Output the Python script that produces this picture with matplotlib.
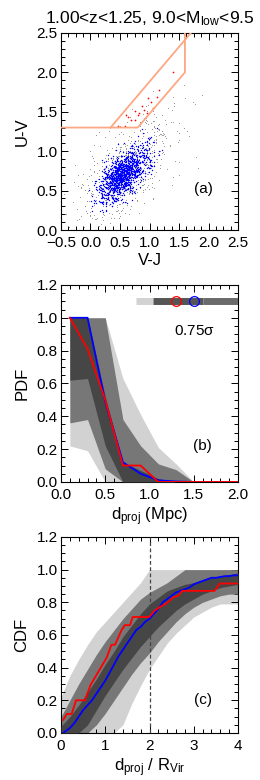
import numpy as np
import matplotlib
matplotlib.use("Agg")
import matplotlib.pyplot as plt
from matplotlib.ticker import MultipleLocator

plt.rcParams['font.family'] = ['Liberation Sans', 'DejaVu Sans']
plt.rcParams['mathtext.fontset'] = 'custom'
plt.rcParams['mathtext.rm'] = 'Liberation Sans'
plt.rcParams['mathtext.it'] = 'Liberation Sans'

# ---------------- data: panel (a) ----------------
title = "1.00<z<1.25, 9.0<M$_{\\rm low}$<9.5"
red_vj = [1.40, 1.16, 0.98, 1.12, 0.88, 1.06, 0.96, 0.83, 0.75, 0.80, 0.61, 0.68, 0.75, 0.58, 0.47, 0.64, 1.02, 0.90]
red_uv = [2.01, 1.78, 1.67, 1.69, 1.57, 1.55, 1.49, 1.48, 1.51, 1.46, 1.46, 1.39, 1.39, 1.32, 1.32, 1.44, 1.63, 1.52]
# cloud parameters (centre, std, correlation, count)
blue_center = [0.56, 0.71]
blue_std = [0.21, 0.17]
blue_corr = 0.6
blue_n = 1100
grey_center = [0.62, 0.78]
grey_std = [0.42, 0.36]
grey_corr = 0.65
grey_n = 650
wedge_x = [-0.5, 0.80, 1.60, 1.60]
wedge_y = [1.30, 1.30, 2.00, 2.50]
wedge2_x = [0.34, 1.70]
wedge2_y = [1.30, 2.50]

# ---------------- data: panel (b) ----------------
pdf_x = [0.1, 0.3, 0.5, 0.7, 0.9, 1.1, 1.3, 1.5, 1.7, 1.9, 2.1]
pdf_blue = [1.0, 1.0, 0.49, 0.12, 0.05, 0.01, 0.003, 0.0, 0.0, 0.0, 0.0]
pdf_red = [1.0, 0.81, 0.50, 0.10, 0.10, 0.0, 0.0, 0.0, 0.0, 0.0, 0.0]
pdf_L_hi = [1.0, 1.0, 1.0, 0.63, 0.41, 0.21, 0.11, 0.0, 0.0, 0.0, 0.0]
pdf_L_lo = [0.22, 0.19, 0.0, 0.0, 0.0, 0.0, 0.0, 0.0, 0.0, 0.0, 0.0]
pdf_M_hi = [1.0, 1.0, 1.0, 0.38, 0.22, 0.11, 0.075, 0.0, 0.0, 0.0, 0.0]
pdf_M_lo = [0.36, 0.38, 0.08, 0.0, 0.0, 0.0, 0.0, 0.0, 0.0, 0.0, 0.0]
pdf_D_hi = [1.0, 1.0, 0.52, 0.12, 0.07, 0.02, 0.0, 0.0, 0.0, 0.0, 0.0]
pdf_D_lo = [0.62, 0.63, 0.22, 0.0, 0.0, 0.0, 0.0, 0.0, 0.0, 0.0, 0.0]
sig_light = [0.85, 1.04]
sig_dark = [1.04, 1.60]
sig_mid = [1.60, 2.00]
sig_red = 1.30
sig_blue = 1.50
sig_label = "0.75$\\sigma$"

# ---------------- data: panel (c) ----------------
cdf_x = [0.0, 0.2, 0.4, 0.6, 0.8, 1.0, 1.2, 1.4, 1.6, 1.8, 2.0, 2.2, 2.4, 2.6, 2.8, 3.0, 3.2, 3.4, 3.6, 3.8, 4.0]
cdf_L_hi = [0.22, 0.35, 0.45, 0.54, 0.62, 0.68, 0.74, 0.80, 0.86, 0.92, 1.0, 1.0, 1.0, 1.0, 1.0, 1.0, 1.0, 1.0, 1.0, 1.0, 1.0]
cdf_L_lo = [0.0, 0.0, 0.0, 0.0, 0.0, 0.0, 0.0, 0.05, 0.18, 0.29, 0.39, 0.47, 0.55, 0.61, 0.66, 0.71, 0.74, 0.77, 0.79, 0.79, 0.79]
cdf_M_hi = [0.10, 0.20, 0.30, 0.39, 0.48, 0.56, 0.63, 0.70, 0.76, 0.82, 0.86, 0.89, 0.92, 0.96, 1.0, 1.0, 1.0, 1.0, 1.0, 1.0, 1.0]
cdf_M_lo = [0.0, 0.0, 0.0, 0.0, 0.05, 0.12, 0.20, 0.28, 0.36, 0.43, 0.49, 0.56, 0.62, 0.68, 0.73, 0.77, 0.80, 0.82, 0.84, 0.85, 0.85]
cdf_D_hi = [0.04, 0.10, 0.17, 0.25, 0.33, 0.42, 0.50, 0.59, 0.66, 0.73, 0.79, 0.83, 0.87, 0.89, 0.91, 0.92, 0.94, 0.95, 0.96, 0.97, 0.98]
cdf_D_lo = [0.0, 0.0, 0.0, 0.05, 0.14, 0.23, 0.31, 0.39, 0.46, 0.53, 0.59, 0.65, 0.70, 0.75, 0.79, 0.82, 0.85, 0.87, 0.89, 0.90, 0.91]
cdf_blue_x = [0.05, 0.1, 0.2, 0.3, 0.4, 0.5, 0.6, 0.7, 0.8, 0.9, 1.0, 1.1, 1.2, 1.3, 1.4, 1.5, 1.6, 1.7, 1.8, 1.9, 2.0,
              2.1, 2.2, 2.3, 2.4, 2.5, 2.6, 2.7, 2.8, 2.9, 3.0, 3.1, 3.2, 3.3, 3.4, 3.5, 3.6, 3.7, 3.8, 3.9, 4.0]
cdf_blue = [0.0, 0.01, 0.03, 0.06, 0.10, 0.14, 0.17, 0.20, 0.24, 0.28, 0.32, 0.37, 0.42, 0.47, 0.51, 0.55, 0.59, 0.63,
            0.65, 0.68, 0.70, 0.73, 0.76, 0.80, 0.82, 0.84, 0.86, 0.87, 0.88, 0.89, 0.91, 0.92, 0.93, 0.94, 0.95, 0.95,
            0.955, 0.96, 0.96, 0.965, 0.965]
cdf_red_x = [0.05, 0.13, 0.24, 0.34, 0.54, 0.67, 1.03, 1.14, 1.22, 1.37, 1.44, 1.56, 1.62, 1.99, 2.12, 2.23, 2.36,
             2.46, 2.53, 2.65, 2.74, 3.47, 3.59, 4.0]
cdf_red = [0.08, 0.116, 0.116, 0.20, 0.20, 0.295, 0.46, 0.54, 0.54, 0.63, 0.66, 0.66, 0.71, 0.71, 0.75, 0.77, 0.79,
           0.81, 0.83, 0.84, 0.87, 0.87, 0.915, 0.915]
vline_x = 2.0

C_LIGHT = '#d2d2d2'
C_MID = '#777777'
C_DARK = '#464646'
C_WEDGE = '#fba883'
TICK_FS = 11
LAB_FS = 12

fig = plt.figure(figsize=(2.6, 7.8), dpi=100)
axa = fig.add_axes([0.2346, 0.7051, 0.6808, 0.2526])
axb = fig.add_axes([0.2346, 0.3821, 0.6808, 0.2526])
axc = fig.add_axes([0.2346, 0.0603, 0.6808, 0.2513])


def style(ax, xmaj, xmin, ymaj, ymin):
    ax.xaxis.set_major_locator(MultipleLocator(xmaj))
    ax.xaxis.set_minor_locator(MultipleLocator(xmin))
    ax.yaxis.set_major_locator(MultipleLocator(ymaj))
    ax.yaxis.set_minor_locator(MultipleLocator(ymin))
    ax.tick_params(which='both', direction='in', top=True, right=True, labelsize=TICK_FS, width=0.7)
    ax.tick_params(which='major', length=5)
    ax.tick_params(which='minor', length=2.8)
    ax.tick_params(axis='x', pad=4.5)
    ax.tick_params(axis='y', pad=2.5)
    for s in ax.spines.values():
        s.set_linewidth(0.8)


# ---- panel (a)
def cloud(center, std, corr, n, seed):
    rng = np.random.default_rng(seed)
    cov = [[std[0] ** 2, corr * std[0] * std[1]], [corr * std[0] * std[1], std[1] ** 2]]
    return rng.multivariate_normal(center, cov, n).T

gx, gy = cloud(grey_center, grey_std, grey_corr, grey_n, 11)
bx, by = cloud(blue_center, blue_std, blue_corr, blue_n, 5)
axa.scatter(gx, gy, s=0.35, c='#808080', linewidths=0, zorder=1)
axa.scatter(bx, by, s=1.0, c='#0000ff', linewidths=0, zorder=2)
axa.scatter(red_vj, red_uv, s=1.5, c='#ff0000', linewidths=0, zorder=3)
axa.plot(wedge_x, wedge_y, color=C_WEDGE, lw=1.3, zorder=4)
axa.plot(wedge2_x, wedge2_y, color=C_WEDGE, lw=1.3, zorder=4)
axa.set_xlim(-0.5, 2.5)
axa.set_ylim(0.0, 2.5)
style(axa, 0.5, 0.125, 0.5, 0.1)
axa.set_xlabel('V-J', fontsize=LAB_FS, labelpad=2)
axa.set_ylabel('U-V', fontsize=LAB_FS, labelpad=5)
axa.set_title(title, fontsize=12.5, pad=7)
axa.text(1.91, 0.52, '(a)', fontsize=TICK_FS, ha='center', va='center')

# ---- panel (b)
axb.fill_between(pdf_x, pdf_L_lo, pdf_L_hi, color=C_LIGHT, lw=0, zorder=1)
axb.fill_between(pdf_x, pdf_M_lo, pdf_M_hi, color=C_MID, lw=0, zorder=2)
axb.fill_between(pdf_x, pdf_D_lo, pdf_D_hi, color=C_DARK, lw=0, zorder=3)
axb.plot(pdf_x, pdf_blue, color='#0000ff', lw=1.3, zorder=4)
axb.plot(pdf_x, pdf_red, color='#ff0000', lw=1.3, zorder=5)
axb.plot(sig_light, [1.1, 1.1], color=C_LIGHT, lw=5, solid_capstyle='butt', zorder=3)
axb.plot(sig_dark, [1.1, 1.1], color='#555555', lw=5, solid_capstyle='butt', zorder=3)
axb.plot(sig_mid, [1.1, 1.1], color='#6a6a6a', lw=5, solid_capstyle='butt', zorder=3)
axb.plot([sig_red], [1.1], 'o', ms=7, mfc='none', mec='#ff0000', mew=0.9, zorder=6)
axb.plot([sig_blue], [1.1], 'o', ms=7, mfc='none', mec='#0000ff', mew=0.9, zorder=6)
axb.text(1.51, 0.92, sig_label, fontsize=TICK_FS, ha='center', va='center')
axb.text(1.60, 0.22, '(b)', fontsize=TICK_FS, ha='center', va='center')
axb.set_xlim(0, 2)
axb.set_ylim(0, 1.2)
style(axb, 0.5, 0.1, 0.2, 0.05)
axb.set_xlabel('d$_{\\rm proj}$ (Mpc)', fontsize=LAB_FS, labelpad=2)
axb.set_ylabel('PDF', fontsize=LAB_FS, labelpad=5)

# ---- panel (c)
axc.fill_between(cdf_x, cdf_L_lo, cdf_L_hi, color=C_LIGHT, lw=0, zorder=1)
axc.fill_between(cdf_x, cdf_M_lo, cdf_M_hi, color=C_MID, lw=0, zorder=2)
axc.fill_between(cdf_x, cdf_D_lo, cdf_D_hi, color=C_DARK, lw=0, zorder=3)
axc.axvline(vline_x, color='#444444', lw=0.9, ls=(0, (3, 2)), zorder=4)
axc.plot(cdf_blue_x, cdf_blue, color='#0000ff', lw=1.3, zorder=5)
axc.plot(cdf_red_x, cdf_red, color='#ff0000', lw=1.3, zorder=6)
axc.text(3.2, 0.20, '(c)', fontsize=TICK_FS, ha='center', va='center')
axc.set_xlim(0, 4)
axc.set_ylim(0, 1.2)
style(axc, 1, 0.2, 0.2, 0.05)
axc.set_xlabel('d$_{\\rm proj}$ / R$_{\\rm Vir}$', fontsize=LAB_FS, labelpad=2)
axc.set_ylabel('CDF', fontsize=LAB_FS, labelpad=5)

fig.savefig('out.png', dpi=100)
